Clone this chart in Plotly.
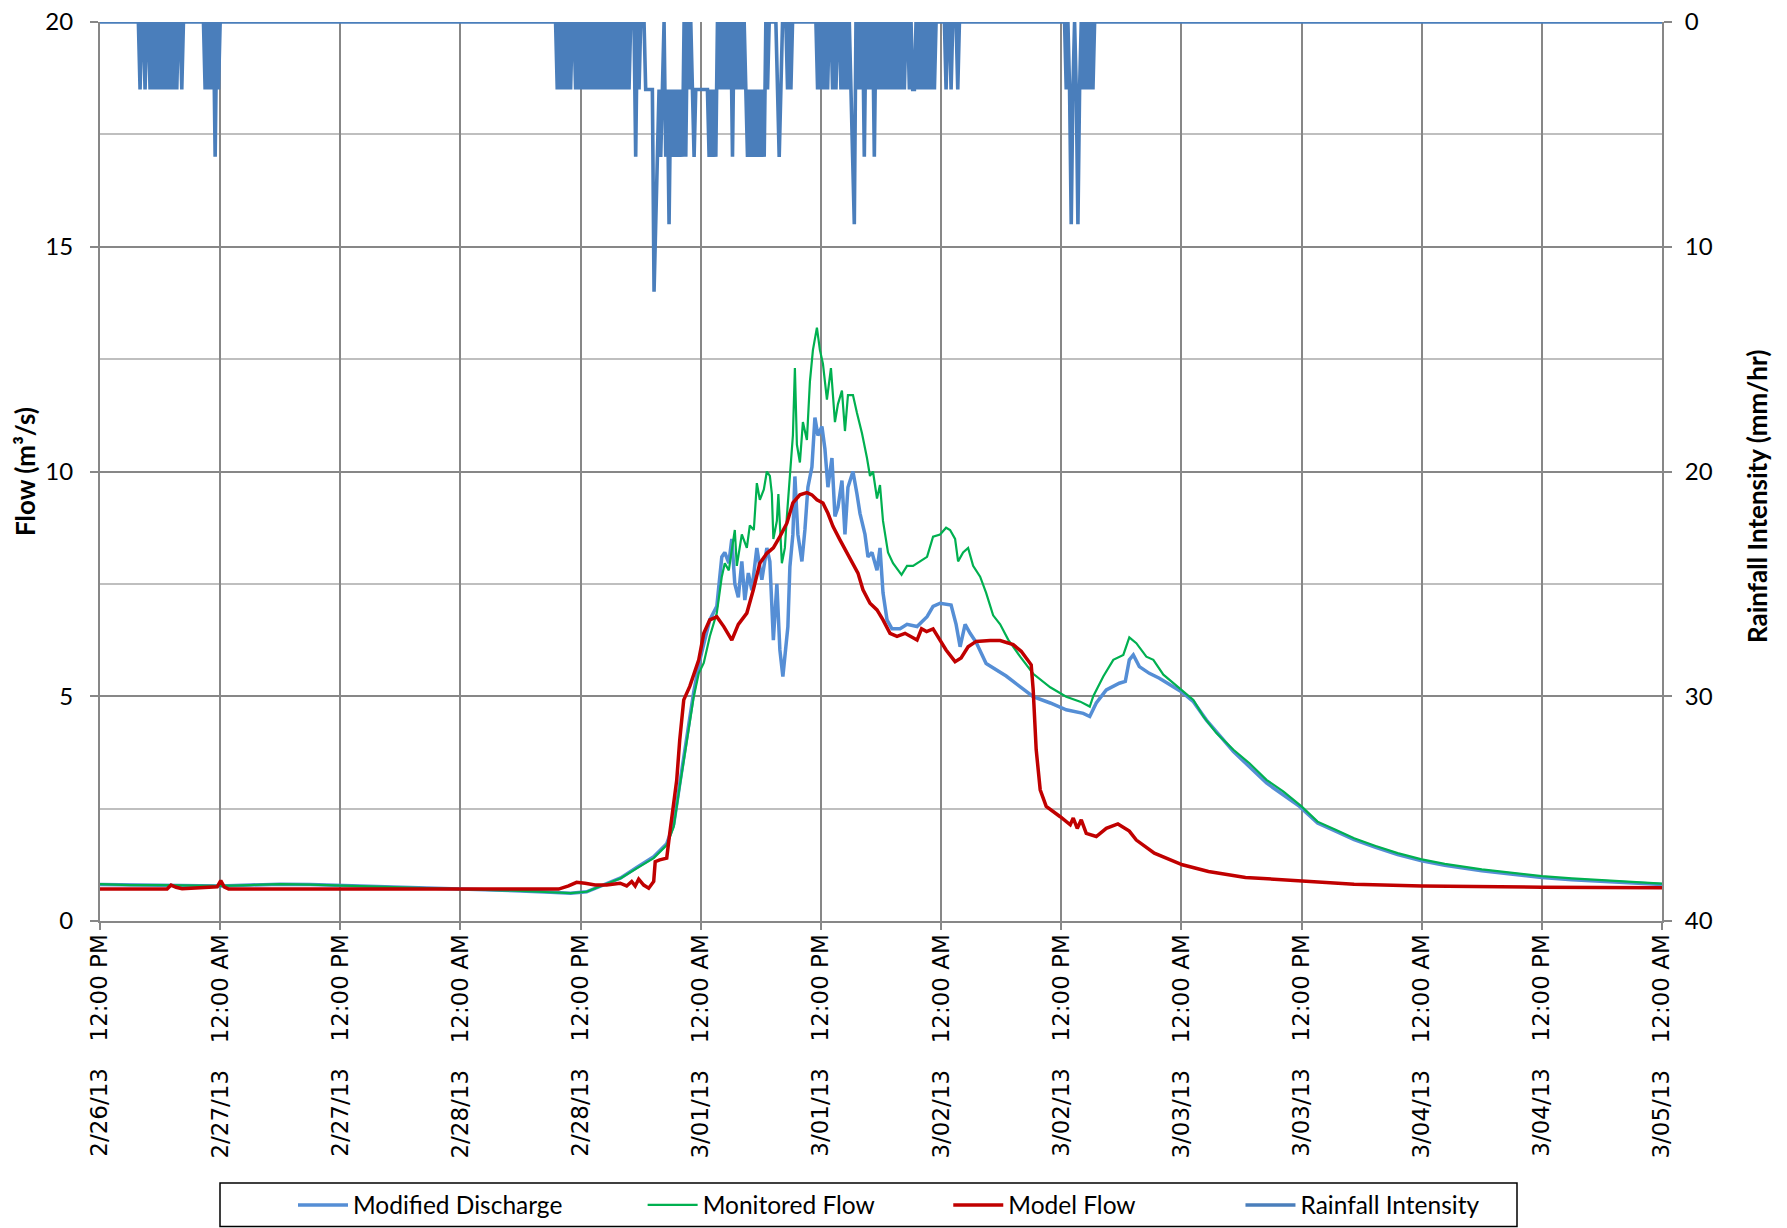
import pandas as pd
import plotly.graph_objects as go

START = pd.Timestamp("2013-02-26 12:00")

# ---------------- Modified Discharge (m3/s), hours after 2/26/13 12:00 PM ----------------
discharge_hours = [0, 3, 6, 9, 12, 15, 18, 21, 24, 27, 30, 33, 36, 39, 42, 45, 47, 48.6, 50.3, 52.0,
                   53.6, 55.3, 56.6, 57.3, 57.9, 58.6, 59.3, 59.9, 60.3, 60.9, 61.6, 62.1, 62.4, 62.8,
                   63.1, 63.4, 63.75, 64.1, 64.4, 64.75, 65.1, 65.6, 66.1, 66.6, 66.9, 67.25, 67.6,
                   67.9, 68.2, 68.4, 68.7, 68.9, 69.2, 69.4, 69.7, 70.1, 70.4, 70.7, 71.1, 71.4, 71.7,
                   72.1, 72.4, 72.7, 73.1, 73.4, 73.7, 74.1, 74.4, 74.7, 75.2, 75.6, 75.9, 76.4, 76.7,
                   77.1, 77.6, 77.9, 78.2, 78.6, 79.1, 79.9, 80.6, 81.6, 82.6, 83.2, 83.9, 85.0, 85.5,
                   85.9, 86.4, 86.9, 87.5, 88.5, 89.5, 90.5, 91.2, 93.2, 94.9, 96.5, 98.2, 98.85, 99.5,
                   100.5, 101.8, 102.4, 102.8, 103.2, 103.8, 104.8, 105.8, 107.2, 108.0, 109.2, 110.5,
                   113.2, 116.5, 119.8, 121.6, 123.4, 125.25, 127.4, 129.6, 132, 134.3, 138, 141.6,
                   144, 147, 150.6, 156]
discharge_flow = [0.81, 0.80, 0.80, 0.79, 0.78, 0.80, 0.82, 0.81, 0.79, 0.78, 0.76, 0.74, 0.72, 0.70,
                  0.67, 0.64, 0.62, 0.65, 0.80, 0.96, 1.19, 1.43, 1.72, 2.15, 3.05, 4.1, 5.1, 5.8, 6.18,
                  6.7, 7.0, 8.1, 8.2, 7.96, 8.5, 7.5, 7.2, 8.0, 7.14, 7.74, 7.36, 8.3, 7.59, 8.3, 8.0,
                  6.25, 7.5, 6.03, 5.44, 5.96, 6.55, 7.88, 8.6, 9.89, 8.6, 8.0, 8.7, 9.65, 10.1, 11.2,
                  10.8, 11.0, 10.5, 9.65, 10.3, 9.0, 9.2, 9.8, 8.6, 9.65, 10.0, 9.5, 9.07, 8.6, 8.1,
                  8.2, 7.8, 8.3, 7.3, 6.7, 6.5, 6.5, 6.6, 6.55, 6.77, 7.0, 7.07, 7.03, 6.6, 6.1, 6.6,
                  6.4, 6.2, 5.73, 5.6, 5.45, 5.33, 4.99, 4.85, 4.7, 4.62, 4.55, 4.85, 5.14, 5.29, 5.33,
                  5.81, 5.92, 5.66, 5.51, 5.4, 5.2, 5.1, 4.88, 4.47, 3.77, 3.07, 2.55, 2.18, 2.0, 1.81,
                  1.64, 1.48, 1.34, 1.24, 1.12, 1.02, 0.97, 0.92, 0.87, 0.81]

# ---------------- Monitored Flow (m3/s) ----------------
monitored_hours = [0, 3, 6, 9, 12, 15, 18, 21, 24, 27, 30, 33, 36, 39, 42, 45, 47, 48.6, 50.3, 52.0,
                   53.6, 55.3, 56.6, 57.3, 57.9, 58.6, 59.3, 59.8, 60.3, 60.9, 61.6, 62.1, 62.4, 62.8,
                   63.4, 63.6, 64.1, 64.6, 64.9, 65.3, 65.6, 65.9, 66.3, 66.6, 66.9, 67.1, 67.25, 67.6,
                   67.75, 68.1, 68.4, 68.6, 68.9, 69.2, 69.4, 69.6, 69.9, 70.2, 70.6, 70.9, 71.2, 71.6,
                   71.9, 72.2, 72.6, 73.0, 73.4, 73.7, 74.1, 74.4, 74.7, 75.2, 75.6, 76.1, 76.6, 76.9,
                   77.2, 77.6, 77.9, 78.2, 78.7, 79.2, 80.05, 80.6, 81.2, 81.9, 82.6, 83.2, 83.9, 84.5,
                   84.9, 85.4, 85.7, 86.2, 86.7, 87.2, 87.9, 88.5, 89.2, 89.9, 90.7, 91.9, 93.2, 94.9,
                   96.5, 97.9, 98.85, 99.2, 100.2, 101.2, 102.2, 102.8, 103.5, 104.5, 105.2, 106.2,
                   107.2, 108.0, 109.2, 110.2, 111.5, 113.2, 114.8, 116.5, 118.2, 120.0, 121.6, 123.4,
                   125.25, 127.4, 129.6, 132, 134.3, 138, 141.6, 144, 147, 150.6, 156]
monitored_flow = [0.82, 0.80, 0.80, 0.79, 0.78, 0.80, 0.82, 0.81, 0.79, 0.78, 0.76, 0.74, 0.72, 0.70,
                  0.67, 0.64, 0.62, 0.65, 0.80, 0.95, 1.17, 1.40, 1.69, 2.10, 2.99, 4.03, 4.99, 5.51,
                  5.74, 6.33, 6.85, 7.66, 7.96, 7.8, 8.7, 7.9, 8.6, 8.3, 8.8, 8.7, 9.74, 9.37, 9.6,
                  10.0, 9.9, 9.5, 8.5, 8.9, 9.5, 7.96, 8.3, 9.0, 10.0, 10.8, 12.3, 10.6, 10.2, 11.1,
                  10.7, 12.0, 12.7, 13.2, 12.7, 12.4, 11.6, 12.3, 11.1, 11.5, 11.8, 10.9, 11.7, 11.7,
                  11.3, 10.85, 10.3, 9.9, 10.0, 9.4, 9.7, 8.9, 8.2, 7.96, 7.7, 7.9, 7.9, 8.0, 8.1,
                  8.55, 8.6, 8.75, 8.7, 8.5, 8.0, 8.2, 8.3, 7.9, 7.66, 7.3, 6.8, 6.6, 6.26, 5.88, 5.5,
                  5.2, 4.99, 4.88, 4.77, 5.0, 5.44, 5.81, 5.92, 6.31, 6.18, 5.88, 5.81, 5.48, 5.29,
                  5.14, 4.92, 4.55, 4.18, 3.81, 3.51, 3.14, 2.88, 2.55, 2.21, 2.03, 1.84, 1.67, 1.51,
                  1.37, 1.27, 1.15, 1.05, 1.0, 0.95, 0.9, 0.83]

# ---------------- Model Flow (m3/s) ----------------
model_hours = [0, 6.7, 7.1, 7.6, 8.2, 9, 10, 11, 11.7, 12.06, 12.4, 12.85, 45.8, 46.8, 47.6, 48.45,
               49.45, 50.6, 51.95, 52.6, 53.1, 53.45, 53.8, 54.3, 54.8, 55.3, 55.45, 55.9, 56.6, 56.9,
               57.3, 57.6, 57.9, 58.3, 58.9, 59.3, 59.8, 60.3, 60.9, 61.3, 61.6, 62.3, 63.1, 63.75,
               64.6, 65.25, 65.9, 66.6, 67.25, 67.9, 68.6, 69.2, 69.9, 70.6, 71.1, 71.6, 72.2, 72.7,
               73.2, 73.9, 74.6, 75.2, 75.7, 76.2, 76.9, 77.6, 78.2, 78.9, 79.6, 80.4, 80.9, 81.6,
               82.05, 82.55, 83.2, 83.9, 84.5, 85.4, 86.0, 86.7, 87.5, 88.9, 89.9, 91.2, 92.0, 92.5,
               93.0, 93.2, 93.5, 93.9, 94.5, 95.9, 96.9, 97.2, 97.6, 98.0, 98.5, 99.5, 100.5, 101.66,
               102.8, 103.5, 105.3, 108.1, 110.7, 114.4, 120.06, 125.25, 132, 144, 156]
model_flow = [0.71, 0.71, 0.80, 0.75, 0.72, 0.73, 0.74, 0.74, 0.76, 0.90, 0.76, 0.71, 0.71, 0.78, 0.86,
              0.84, 0.80, 0.80, 0.84, 0.78, 0.88, 0.78, 0.93, 0.80, 0.73, 0.88, 1.32, 1.36, 1.40, 1.95,
              2.7, 3.14, 4.03, 4.92, 5.22, 5.51, 5.81, 6.4, 6.7, 6.74, 6.77, 6.55, 6.25, 6.6, 6.85,
              7.37, 7.96, 8.18, 8.3, 8.55, 8.85, 9.3, 9.48, 9.53, 9.48, 9.37, 9.3, 9.07, 8.78, 8.48,
              8.18, 7.96, 7.74, 7.37, 7.07, 6.92, 6.7, 6.4, 6.33, 6.4, 6.33, 6.25, 6.5, 6.44, 6.5,
              6.25, 6.03, 5.77, 5.85, 6.1, 6.22, 6.24, 6.24, 6.15, 6.0, 5.85, 5.7, 5.14, 3.81, 2.92,
              2.55, 2.32, 2.14, 2.29, 2.06, 2.25, 1.95, 1.88, 2.06, 2.16, 2.0, 1.8, 1.51, 1.25, 1.1,
              0.97, 0.9, 0.82, 0.78, 0.75, 0.74]

# ---------------- Rainfall Intensity (mm/hr), 10-minute readings ----------------
# each segment: start time and consecutive 10-minute readings; other readings are 0
rain_segment_starts = ["2013-02-26 16:00", "2013-02-26 22:30", "2013-02-28 09:40",
                       "2013-02-28 18:30", "2013-03-01 11:40", "2013-03-01 15:30",
                       "2013-03-01 18:00", "2013-03-01 21:20", "2013-03-02 12:30"]
rain_segment_values = [
    [3, 0, 0, 3, 0, 0, 3, 0, 3, 0, 3, 0, 3, 0, 3, 0, 3, 0, 3, 0, 3, 0, 3, 0, 0, 3, 0],
    [3, 0, 3, 0, 3, 0, 6, 0, 3, 0],
    [3, 0, 3, 0, 3, 0, 3, 0, 3, 0, 0, 3, 0, 3, 0, 3, 0, 3, 0, 3, 0, 3, 0, 3, 0, 3, 0, 3, 0, 3,
     0, 3, 0, 3, 0, 3, 0, 3, 0, 3, 0, 3, 0, 3, 0, 0, 0, 6, 0, 3, 0, 0, 0],
    [3, 3, 3, 3, 3, 12, 9, 6, 3, 6, 3, 0, 6, 3, 9, 3, 6, 3, 6, 3, 6, 3, 6, 0, 6, 0, 3, 0,
     3, 6, 3, 3, 3, 3, 3, 3, 3, 3, 6, 3, 6, 3, 6,
     0, 3, 0, 3, 0, 3, 0, 3, 0, 6, 0, 3, 0, 3, 0, 3, 0, 3,
     6, 3, 6, 3, 6, 3, 6, 3, 6, 3, 6, 0, 3, 0, 0, 0, 0, 0, 3, 6, 3, 0, 0, 0, 3, 0, 3, 0],
    [3, 0, 3, 0, 3, 0, 3, 0, 0, 3, 0, 3, 0, 0, 3, 0, 3, 0, 3, 0, 3, 6, 9, 6, 0, 6, 0, 3, 0,
     3, 0, 3, 6, 0, 6, 3, 6, 0, 6, 3],
    [0, 3, 0, 3, 0, 6, 0, 3, 0, 3, 0, 6, 0, 3, 0, 3, 0, 3, 0, 3, 0, 3, 6, 0, 3, 0, 3, 0, 6,
     0, 3, 0, 3, 0, 3, 0, 3, 0, 3, 0, 0, 0, 3, 0, 3, 0, 3, 0, 3, 0],
    [3, 0, 3, 0, 3, 0, 3, 0, 3, 0, 3, 0, 3, 0, 3, 0],
    [3, 0, 3, 0, 3, 0, 3, 0, 3, 0, 3, 0, 3, 0, 0, 0, 0, 0, 0, 3, 0, 0, 3, 0, 0, 0, 3, 0],
    [3, 0, 3, 9, 3, 0, 3, 9, 3, 0, 3, 0, 3, 0, 3, 0, 3, 0],
]

# ---------------- Axis ticks / labels ----------------
tick_dates = ["2/26/13", "2/27/13", "2/27/13", "2/28/13", "2/28/13", "3/01/13", "3/01/13",
              "3/02/13", "3/02/13", "3/03/13", "3/03/13", "3/04/13", "3/04/13", "3/05/13"]
tick_times = ["12:00 PM", "12:00 AM"] * 7
flow_ticks = [0, 5, 10, 15, 20]
rain_ticks = [0, 10, 20, 30, 40]
series_names = ["Modified Discharge", "Monitored Flow", "Model Flow", "Rainfall Intensity"]

# ---------------- build series ----------------
def to_time(hours):
    return [START + pd.Timedelta(hours=h) for h in hours]

end_time = START + pd.Timedelta(hours=12 * (len(tick_dates) - 1))
rain_index = pd.date_range(START, end_time, freq="10min")
rain_series = pd.Series(0.0, index=rain_index)
for seg_start, seg_vals in zip(rain_segment_starts, rain_segment_values):
    idx = pd.date_range(pd.Timestamp(seg_start), periods=len(seg_vals), freq="10min")
    rain_series.loc[idx] = seg_vals

tickvals = [START + pd.Timedelta(hours=12 * i) for i in range(len(tick_dates))]
ticktext = [d + "\u00a0" * 3 + "\u2009" + t for d, t in zip(tick_dates, tick_times)]

NB = "\u00a0"
legend_pad = [NB * 12, NB * 11, NB * 16, ""]

fig = go.Figure()
fig.add_trace(go.Scatter(x=to_time(discharge_hours), y=discharge_flow, mode="lines",
                         name=series_names[0] + legend_pad[0],
                         line=dict(color="#558ED5", width=3.5)))
fig.add_trace(go.Scatter(x=to_time(monitored_hours), y=monitored_flow, mode="lines",
                         name=series_names[1] + legend_pad[1],
                         line=dict(color="#00B050", width=2.2)))
fig.add_trace(go.Scatter(x=to_time(model_hours), y=model_flow, mode="lines",
                         name=series_names[2] + legend_pad[2],
                         line=dict(color="#C00000", width=3.5)))
fig.add_trace(go.Scatter(x=rain_series.index, y=rain_series.values, mode="lines",
                         name=series_names[3] + legend_pad[3], yaxis="y2",
                         line=dict(color="#4A7EBB", width=3.6, simplify=False)))

GRID = "#878787"
PW, PH, ML, MT = 1562, 899, 100, 22
fig.update_layout(
    width=1787, height=1228, autosize=False,
    margin=dict(l=ML, r=1787 - ML - PW, t=MT, b=1228 - MT - PH, autoexpand=False),
    paper_bgcolor="white", plot_bgcolor="white",
    font=dict(family="Lato", size=23, color="black"),
    showlegend=True,
    legend=dict(orientation="h", x=(889 - ML) / PW, xanchor="center",
                y=-(1205 - (MT + PH)) / PH, yanchor="middle", itemwidth=50,
                borderwidth=0, font=dict(family="Lato", size=24.5), bgcolor="rgba(0,0,0,0)"),
    xaxis=dict(type="date", range=[START, end_time], tickmode="array", tickvals=tickvals,
               ticktext=ticktext, tickangle=-90, showgrid=True, gridcolor=GRID, gridwidth=2,
               showline=True, linecolor=GRID, linewidth=2, ticks="outside", ticklen=7,
               tickcolor=GRID, tickwidth=2, zeroline=False, automargin=False,
               ticklabelstandoff=-5,
               tickfont=dict(family="DejaVu Sans", size=23, color="black")),
    yaxis=dict(range=[0, 20], tickmode="array", tickvals=flow_ticks, showgrid=True,
               gridcolor=GRID, gridwidth=2, showline=True, linecolor=GRID, linewidth=2,
               ticks="outside", ticklen=8, tickcolor=GRID, tickwidth=2, zeroline=False,
               ticklabelstandoff=12, automargin=False,
               minor=dict(dtick=2.5, showgrid=True, gridcolor="#BFBFBF", gridwidth=2),
               tickfont=dict(family="Lato", size=24, color="black")),
    yaxis2=dict(range=[40, 0], overlaying="y", side="right", tickmode="array",
                tickvals=rain_ticks, showgrid=False, showline=True, linecolor=GRID, linewidth=2,
                ticks="outside", ticklen=8, tickcolor=GRID, tickwidth=2, zeroline=False,
                ticklabelstandoff=8, automargin=False,
                tickfont=dict(family="Lato", size=24, color="black")),
    shapes=[dict(type="rect", xref="paper", yref="paper",
                 x0=(220 - ML) / PW, x1=(1517 - ML) / PW,
                 y0=-(1226.5 - (MT + PH)) / PH, y1=-(1183 - (MT + PH)) / PH,
                 line=dict(color="black", width=1.5), fillcolor="rgba(0,0,0,0)")],
    annotations=[
        dict(text="<b>Flow (m³/s)</b>", xref="paper", yref="paper", x=(25 - ML) / PW,
             y=(MT + PH - 472) / PH, textangle=-90, showarrow=False, xanchor="center",
             yanchor="middle", font=dict(family="Lato", size=26, color="black")),
        dict(text="<b>Rainfall Intensity (mm/hr)</b>", xref="paper", yref="paper",
             x=(1757 - ML) / PW, y=(MT + PH - 497) / PH, textangle=-90, showarrow=False,
             xanchor="center", yanchor="middle",
             font=dict(family="Lato", size=26, color="black")),
    ],
)

fig.write_html("out.html", config={"displayModeBar": False},
               post_script="document.body.style.margin='0px';")
